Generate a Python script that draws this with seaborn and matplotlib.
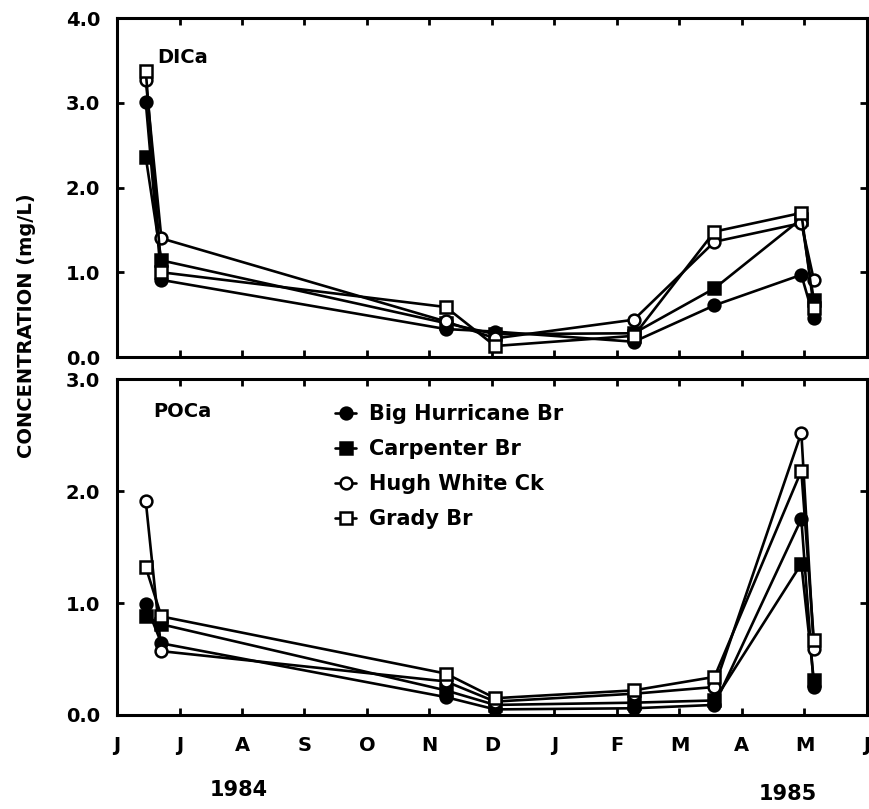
import matplotlib
matplotlib.use("Agg")
import matplotlib.pyplot as plt
from matplotlib.lines import Line2D
import numpy as np
import pandas as pd
import seaborn as sns

# Sampling dates, expressed as months since 1 June 1984
sample_month = [0.46, 0.71, 5.26, 6.05, 8.27, 9.56, 10.95, 11.15]

sites = ["Big Hurricane Br", "Carpenter Br", "Hugh White Ck", "Grady Br"]

# Dissolved inorganic carbon (mg/L)
dica_big_hurricane = [3.01, 0.91, 0.33, 0.30, 0.18, 0.61, 0.97, 0.46]
dica_carpenter     = [2.36, 1.14, 0.40, 0.27, 0.28, 0.81, 1.63, 0.67]
dica_hugh_white    = [3.27, 1.40, 0.42, 0.22, 0.44, 1.36, 1.58, 0.91]
dica_grady         = [3.38, 1.00, 0.59, 0.13, 0.25, 1.48, 1.70, 0.58]

# Particulate organic carbon (mg/L)
poca_big_hurricane = [0.99, 0.64, 0.16, 0.05, 0.06, 0.09, 1.75, 0.25]
poca_carpenter     = [0.88, 0.81, 0.22, 0.09, 0.11, 0.13, 1.35, 0.31]
poca_hugh_white    = [1.91, 0.57, 0.30, 0.12, 0.19, 0.25, 2.52, 0.59]
poca_grady         = [1.32, 0.88, 0.37, 0.15, 0.22, 0.34, 2.18, 0.67]

month_labels = ["J", "J", "A", "S", "O", "N", "D", "J", "F", "M", "A", "M", "J"]
year_labels = ["1984", "1985"]

dica = dict(zip(sites, [dica_big_hurricane, dica_carpenter, dica_hugh_white, dica_grady]))
poca = dict(zip(sites, [poca_big_hurricane, poca_carpenter, poca_hugh_white, poca_grady]))

marker_style = {
    "Big Hurricane Br": dict(marker="o", markerfacecolor="black"),
    "Carpenter Br":     dict(marker="s", markerfacecolor="black"),
    "Hugh White Ck":    dict(marker="o", markerfacecolor="white"),
    "Grady Br":         dict(marker="s", markerfacecolor="white"),
}

sns.set_style("white")
plt.rcParams["font.family"] = ["DejaVu Sans"]
plt.rcParams["font.weight"] = "bold"
plt.rcParams["text.color"] = "black"
plt.rcParams["axes.labelcolor"] = "black"
plt.rcParams["xtick.color"] = "black"
plt.rcParams["ytick.color"] = "black"

fig = plt.figure(figsize=(8.7, 8.09), dpi=100)
ax_top = fig.add_axes([0.1345, 0.5587, 0.862, 0.419])
ax_bot = fig.add_axes([0.1345, 0.1162, 0.862, 0.4153])

LW = 1.9
MS = 8.5
MEW = 1.8


def draw_panel(ax, table):
    frame = pd.DataFrame(
        [(s, m, v) for s in sites for m, v in zip(sample_month, table[s])],
        columns=["site", "month", "conc"],
    )
    for s in sites:
        sub = frame[frame["site"] == s]
        sns.lineplot(
            data=sub, x="month", y="conc", ax=ax, color="black",
            linewidth=LW, markersize=MS, markeredgecolor="black",
            markeredgewidth=MEW, sort=False, estimator=None,
            **marker_style[s],
        )
    ax.set_xlim(0, 12)
    ax.set_xticks(np.arange(13))
    ax.set_xlabel("")
    ax.set_ylabel("")
    for sp in ax.spines.values():
        sp.set_linewidth(2.2)
        sp.set_color("black")
        sp.set_visible(True)
    ax.tick_params(axis="both", which="both", direction="in", length=5,
                   width=2, top=True, right=True, bottom=True, left=True,
                   labelsize=14, pad=12, colors="black")


draw_panel(ax_top, dica)
ax_top.set_ylim(0, 4.0)
ax_top.set_yticks([0, 1, 2, 3, 4])
ax_top.set_yticklabels(["0.0", "1.0", "2.0", "3.0", "4.0"], fontweight="bold")
ax_top.set_xticklabels([])
ax_top.text(0.053, 0.885, "DICa", transform=ax_top.transAxes, fontsize=14,
            fontweight="bold", va="center", ha="left", color="black")

draw_panel(ax_bot, poca)
ax_bot.set_ylim(0, 3.0)
ax_bot.set_yticks([0, 1, 2, 3])
ax_bot.set_yticklabels(["0.0", "1.0", "2.0", "3.0"], fontweight="bold")
ax_bot.set_xticklabels(month_labels, fontweight="bold")
ax_bot.tick_params(axis="x", pad=15)
ax_bot.text(0.048, 0.902, "POCa", transform=ax_bot.transAxes, fontsize=14,
            fontweight="bold", va="center", ha="left", color="black")

handles = [
    Line2D([], [], color="black", linewidth=LW, markersize=MS,
           markeredgecolor="black", markeredgewidth=MEW, **marker_style[s])
    for s in sites
]
leg = ax_bot.legend(handles, sites, loc="upper left",
                    bbox_to_anchor=(0.266, 0.98), frameon=False,
                    handlelength=1.0, handletextpad=0.6, labelspacing=0.72,
                    prop=dict(size=15, weight="bold"), labelcolor="black")

fig.text(0.031, 0.598, "CONCENTRATION (mg/L)", rotation=90, fontsize=14,
         fontweight="bold", ha="center", va="center", color="black")
fig.text(0.274, 0.024, year_labels[0], fontsize=15, fontweight="bold",
         ha="center", va="center", color="black")
fig.text(0.906, 0.018, year_labels[1], fontsize=15, fontweight="bold",
         ha="center", va="center", color="black")

fig.savefig("out.png", dpi=100, facecolor="white")
